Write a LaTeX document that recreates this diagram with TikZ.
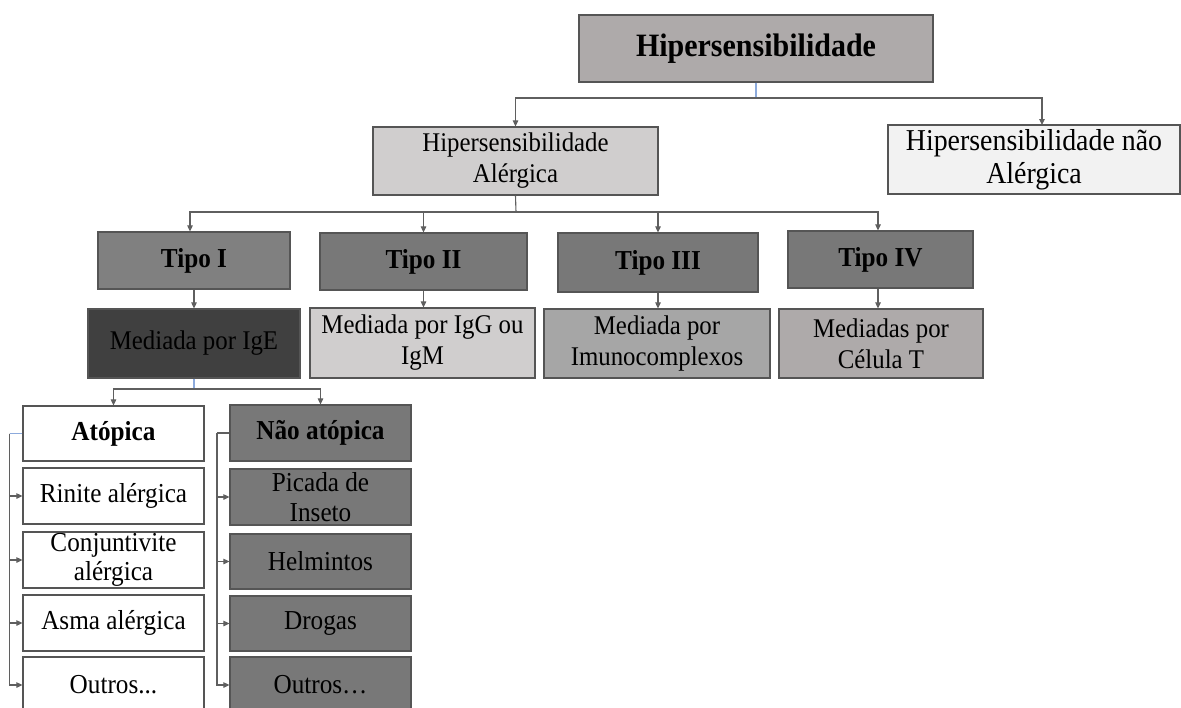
\documentclass[tikz,border=0pt]{standalone}
\usepackage{fontspec}
\setmainfont{Liberation Serif}[FakeStretch=0.92]
\usetikzlibrary{arrows.meta,calc}

\definecolor{edge}{RGB}{85,85,85}
\definecolor{wire}{RGB}{95,95,95}
\definecolor{wireblue}{RGB}{140,170,220}
\definecolor{fillTop}{RGB}{174,170,170}
\definecolor{fillLight}{RGB}{208,206,206}
\definecolor{fillPale}{RGB}{242,242,242}
\definecolor{fillTipoA}{RGB}{128,128,128}
\definecolor{fillTipoB}{RGB}{120,120,120}
\definecolor{fillDark}{RGB}{64,64,64}
\definecolor{fillMid}{RGB}{166,166,166}

\tikzset{
  box/.style={draw=edge, line width=1.2pt, inner sep=0pt, align=center,
              anchor=center, text=black},
  fsTop/.style={font=\fontsize{32.6}{36}\selectfont\bfseries},
  fsMid/.style={font=\fontsize{27}{31}\selectfont},
  fsWide/.style={font=\fontsize{30.3}{33}\selectfont},
  fsTipo/.style={font=\fontsize{27.4}{31}\selectfont\bfseries},
  fsSmall/.style={font=\fontsize{27.4}{29.5}\selectfont},
  fsSmallBold/.style={font=\fontsize{27.4}{29.5}\selectfont\bfseries},
  link/.style={draw=wire, line width=1.1pt},
  bluelink/.style={draw=wireblue, line width=1.1pt},
  arr/.style={link, -{Triangle[length=6pt,width=5.5pt]}},
}

\begin{document}
\begin{tikzpicture}[x=1pt, y=-1pt]
\useasboundingbox (0,0) rectangle (1181,707);
\clip (0,0) rectangle (1181,707);

% --- root and first split
\node[box, fsTop, fill=fillTop, minimum width=354pt, minimum height=67pt]
  (root) at (756,48.5) {Hipersensibilidade};
\node[box, fsMid, fill=fillLight, minimum width=285pt, minimum height=68pt]
  (alerg) at (515.5,161) {Hipersensibilidade\\Alérgica};
\node[box, fsWide, fill=fillPale, minimum width=292pt, minimum height=69pt]
  (naoalerg) at (1034,159.5) {Hipersensibilidade não\\Alérgica};

% --- the four types
\node[box, fsTipo, fill=fillTipoA, minimum width=192pt, minimum height=57pt]
  (t1) at (194,260.5) {Tipo I};
\node[box, fsTipo, fill=fillTipoB, minimum width=207pt, minimum height=57pt]
  (t2) at (423.5,261.5) {Tipo II};
\node[box, fsTipo, fill=fillTipoB, minimum width=200pt, minimum height=59pt]
  (t3) at (658,262.5) {Tipo III};
\node[box, fsTipo, fill=fillTipoB, minimum width=185pt, minimum height=57pt]
  (t4) at (880.5,259.5) {Tipo IV};

% --- mediators
\node[box, fsMid, fill=fillDark, minimum width=212pt, minimum height=69pt]
  (m1) at (194,343.5) {Mediada por IgE};
\node[box, fsMid, fill=fillLight, minimum width=225pt, minimum height=70pt]
  (m2) at (422.5,343) {Mediada por IgG ou\\IgM};
\node[box, fsMid, fill=fillMid, minimum width=226pt, minimum height=69pt]
  (m3) at (657,343.5) {Mediada por\\Imunocomplexos};
\node[box, fsMid, fill=fillTop, minimum width=204pt, minimum height=69pt]
  (m4) at (881,343.5) {Mediadas por\\Célula T};

% --- atopic column
\node[box, fsSmallBold, fill=white, minimum width=181pt, minimum height=55pt]
  (a0) at (113.5,433.5) {Atópica};
\node[box, fsSmall, fill=white, minimum width=181pt, minimum height=56pt]
  (a1) at (113.5,496) {Rinite alérgica};
\node[box, fsSmall, fill=white, minimum width=181pt, minimum height=56pt]
  (a2) at (113.5,560) {Conjuntivite\\alérgica};
\node[box, fsSmall, fill=white, minimum width=181pt, minimum height=56pt]
  (a3) at (113.5,623) {Asma alérgica};
\node[box, fsSmall, fill=white, minimum width=181pt, minimum height=56pt]
  (a4) at (113.5,685) {Outros...};

% --- non-atopic column
\node[box, fsSmallBold, fill=fillTipoB, minimum width=181pt, minimum height=56pt]
  (b0) at (320.5,433) {Não atópica};
\node[box, fsSmall, fill=fillTipoB, minimum width=181pt, minimum height=56pt]
  (b1) at (320.5,497) {Picada de\\Inseto};
\node[box, fsSmall, fill=fillTipoB, minimum width=181pt, minimum height=55pt]
  (b2) at (320.5,561.5) {Helmintos};
\node[box, fsSmall, fill=fillTipoB, minimum width=181pt, minimum height=55pt]
  (b3) at (320.5,623.5) {Drogas};
\node[box, fsSmall, fill=fillTipoB, minimum width=181pt, minimum height=56pt]
  (b4) at (320.5,685) {Outros…};

% --- junction points
\coordinate (bus1) at (756,98);
\coordinate (naIn) at (1042,125);
\coordinate (bus2) at (516,212);
\coordinate (bus3) at (194,389);
\coordinate (spineA) at (9.5,433.5);
\coordinate (spineB) at (217,433);

% --- root to first split
\draw[bluelink] (root.south) -- (bus1);
\draw[arr] (bus1) -| (alerg.north);
\draw[arr] (bus1) -| (naIn);

% --- allergic to the four types
\draw[link] (alerg.south) -- (bus2);
\draw[arr] (bus2) -| ($(t1.north)+(-4,0)$);
\draw[arr] (bus2) -| (t2.north);
\draw[arr] (bus2) -| (t3.north);
\draw[arr] (bus2) -| ($(t4.north)+(-2.5,0)$);

% --- types to mediators
\draw[arr] (t1.south) -- (t1.south |- m1.north);
\draw[arr] (t2.south) -- (t2.south |- m2.north);
\draw[arr] (t3.south) -- (t3.south |- m3.north);
\draw[arr] ($(t4.south)+(-2.5,0)$) -- ($(t4.south |- m4.north)+(-2.5,0)$);

% --- IgE to atopic / non-atopic
\draw[bluelink] (m1.south) -- (bus3);
\draw[arr] (bus3) -| (a0.north);
\draw[arr] (bus3) -| (b0.north);

% --- column spines
\draw[bluelink] (a0.west) -- (spineA);
\foreach \i in {1,...,4} \draw[arr] (spineA) |- (a\i.west);
\draw[link] (b0.west) -- (spineB);
\foreach \i in {1,...,4} \draw[arr] (spineB) |- (b\i.west);

\end{tikzpicture}
\end{document}
